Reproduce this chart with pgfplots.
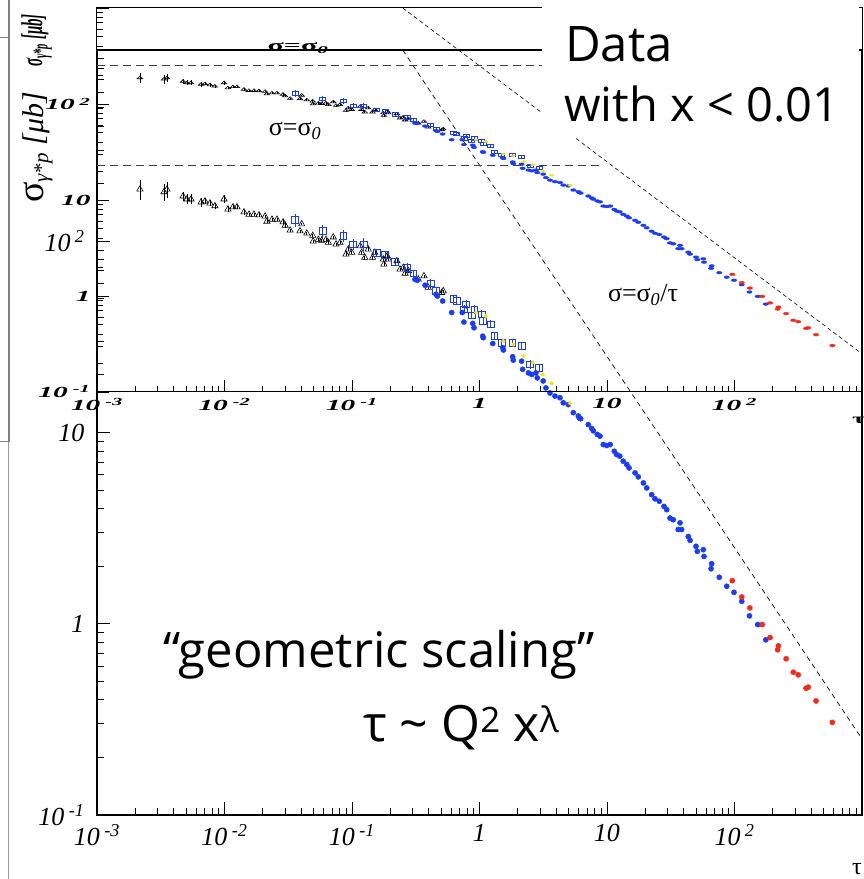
\documentclass[border=0pt]{standalone}
\usepackage{fontspec}
\setmainfont{Liberation Serif}
\newfontfamily\comic{Open Sans}
\usepackage{graphicx}
\usepackage{pgfplots}
\usepackage{pgfplotstable}
\pgfplotsset{compat=1.18}
\definecolor{hblue}{RGB}{25,60,250}
\definecolor{hred}{RGB}{250,40,20}
\definecolor{hyel}{RGB}{245,230,0}

\pgfplotstableread{
x y e
0.00217 187 22
0.00335 181 18
0.00354 187 18
0.00473 172 10
0.00508 166 10
0.00546 166 10
0.00655 160 9
0.00703 162 6
0.00769 158 6
0.00841 153 6
0.00991 166 8
0.01064 147 4
0.01167 151 4
0.01253 151 4
0.01422 142 4
0.01556 138 3
0.01702 138 3
0.01866 137 3
0.0208 135 3
0.0215 127 3
0.0236 130 3
0.0258 130 3
0.0288 126 3
0.0299 121 3
0.0327 114 2
0.0391 113 2
0.0403 123 2
0.0442 110 2
0.0492 107 2
0.0496 100 2
0.0545 102 2
0.0578 101 2
0.0625 102 2
0.0652 98.4 2
0.0713 105 2
0.0750 96.4 2
0.0805 98.4 2
0.0897 85.5 2
0.0935 90.8 2
0.0995 87.3 2
0.116 94.4 2
0.119 87.3 2
0.126 82.2 2
0.134 90.8 2
0.145 82.2 2
0.151 87.3 2
0.176 80.5 2
0.178 75.8 2
0.189 83.8 2
0.193 80.5 2
0.225 78.9 1.5
0.238 71.3 1.5
0.252 72.8 1.5
0.261 67.9 1.5
0.277 70.0 1.5
0.331 63.2 1.2
0.367 65.8 1.2
0.396 57.3 1.2
0.506 53.8 1
0.520 54.9 1
}\tri

\pgfplotstableread{
x y e
0.0357 129 10
0.0589 113 9
0.0855 107 8
0.102 96.4 6
0.123 96.4 7
0.156 87.3 4
0.182 84.5 4
0.217 77.9 4
0.272 72.8 4
0.303 67.9 3
0.414 60.3 3
0.456 54.9 3
0.624 50.1 2.5
0.662 48.7 2.5
0.783 46.8 2.3
0.755 44.0 2.2
0.869 41.0 2
0.910 44.0 2.2
1.04 41.5 2
1.07 38.3 2
1.22 36.8 1.8
1.31 31.9 1.6
1.49 29.5 1.5
1.81 29.5 1.5
2.14 28.3 1.4
2.49 22.7 1.1
2.94 21.8 1.1
}\sqr

\pgfplotstableread{
x y
0.312 63.2
0.325 62.5
0.374 58.9
0.456 52.8
0.467 51.7
0.514 48.7
0.605 42.4
0.733 42.4
0.755 37.8
0.885 37.2
0.906 35.3
1.06 31.9
1.07 31.3
1.27 29.2
1.52 27.8
1.54 27.0
1.82 24.9
1.84 23.9
2.14 23.6
2.18 21.4
2.42 20.5
2.57 20.1
2.77 20.5
2.84 19.3
3.16 18.6
3.32 17.1
3.57 16.1
3.91 15.5
4.28 15.2
4.54 14.3
4.97 14.0
5.44 12.7
5.96 12.2
6.07 11.9
6.22 11.8
7.13 11.0
7.59 10.5
7.81 10.2
8.39 9.77
8.81 9.57
9.35 8.65
9.95 8.55
10.6 8.65
11.4 7.98
11.9 7.67
12.6 7.52
13.4 7.08
14.3 6.80
14.9 6.53
16.6 6.15
17.6 5.86
19.3 5.45
20.5 5.13
22.4 4.73
23.8 4.50
25.7 4.37
28.0 4.11
29.4 3.95
31.2 3.57
33.1 3.50
37.4 3.37
36.2 3.11
38.5 3.11
43.4 2.86
44.8 2.73
49.9 2.54
51.1 2.39
56.9 2.44
57.7 2.25
66.2 2.06
65.5 1.94
76.0 1.75
86.9 1.57
99.1 1.46
114 1.31
131 1.10
152 0.99
176 0.824
}\bluedots

\pgfplotstableread{
x y
96.1 1.68
114 1.38
132 1.21
165 0.99
190 0.847
221 0.767
218 0.731
254 0.656
289 0.558
316 0.541
364 0.460
379 0.466
436 0.395
585 0.305
}\reddots

\pgfplotstableread{
x y
0.940 42.4
1.12 40.6
1.54 30.1
1.84 28.9
2.21 25.1
2.61 23.2
3.13 20.1
3.68 18.1
5.13 14.2
}\yeldots

\newcommand{\bl}[2]{\itshape #1\,\textsuperscript{#2}}
\newcommand{\il}[1]{\scalebox{1.05}[0.55]{\bfseries\itshape #1}}

\begin{document}
\begin{tikzpicture}
\useasboundingbox (0pt,0pt) rectangle (863pt,879pt);

% ---------------- big plot ----------------
\begin{axis}[
  at={(97pt,64pt)}, anchor=south west, scale only axis,
  width=765pt, height=765pt,
  xmode=log, ymode=log, xmin=1e-3, xmax=1e3, ymin=0.1, ymax=1000,
  axis line style={line width=1.3pt},
  tick align=inside, xtick pos=left, ytick pos=left,
  major tick length=13pt, minor tick length=7pt,
  every tick/.style={black, line width=0.9pt},
  xtick={1e-3,1e-2,1e-1,1,10,100,1000},
  xticklabels={\bl{10}{-3},\bl{10}{-2},\bl{10}{-1},{\itshape 1},{\itshape 10},\bl{10}{2},{}},
  ytick={0.1,1,10,100,1000},
  yticklabels={\bl{10}{-1},{\itshape 1},{\itshape 10},\bl{10}{2},{}},
  tick label style={font=\fontsize{26}{28}\selectfont},
  yticklabel style={xshift=-9pt},
  xticklabel style={yshift=-6pt},
]
\addplot[black, line width=0.7pt, dash pattern=on 5pt off 4pt] coordinates {(0.25,1000) (1000,0.25)};
\addplot[black!75, line width=0.8pt, dash pattern=on 8pt off 5pt] coordinates {(0.001,250) (9.4,250)};
\addplot[only marks, mark=triangle, mark size=3.6pt, black, line width=0.6pt,
  error bars/.cd, y dir=both, y explicit, error mark=none,
  error bar style={line width=0.6pt}] table[x=x,y=y,y error=e]{\tri};
\addplot[only marks, mark=square, mark size=3.4pt, hblue, line width=0.7pt,
  error bars/.cd, y dir=both, y explicit, error mark=none,
  error bar style={line width=0.7pt}] table[x=x,y=y,y error=e]{\sqr};
\addplot[only marks, mark=*, mark size=2.6pt, hblue] table[x=x,y=y]{\bluedots};
\addplot[only marks, mark=*, mark size=1.9pt, hyel] table[x=x,y=y]{\yeldots};
\addplot[only marks, mark=*, mark size=2.6pt, hred] table[x=x,y=y]{\reddots};
\end{axis}

% ---------------- inset (compressed copy) ----------------
\begin{axis}[
  at={(97pt,487pt)}, anchor=south west, scale only axis,
  width=765pt, height=384pt,
  xmode=log, ymode=log, xmin=1e-3, xmax=1e3, ymin=0.1, ymax=1000,
  axis line style={line width=1pt},
  tick align=inside, xtick pos=left, ytick pos=left,
  major tick length=12pt, minor tick length=6pt,
  every tick/.style={black, line width=0.8pt},
  xtick={1e-3,1e-2,1e-1,1,10,100,1000},
  xticklabels={\il{10\,\textsuperscript{-3}},\il{10\,\textsuperscript{-2}},\il{10\,\textsuperscript{-1}},\il{1},\il{10},\il{10\,\textsuperscript{2}},{}},
  ytick={0.1,1,10,100,1000},
  yticklabels={\il{10\,\textsuperscript{-1}},\il{1},\il{10},\il{10\,\textsuperscript{2}},{}},
  tick label style={font=\fontsize{28}{30}\selectfont},
  yticklabel style={xshift=-3pt},
  xticklabel style={yshift=-3pt},
]
\addplot[black, line width=0.6pt, dash pattern=on 4pt off 3pt] coordinates {(0.25,1000) (1000,0.25)};
\addplot[black!75, line width=0.8pt, dash pattern=on 8pt off 5pt] coordinates {(0.001,250) (9.4,250)};
\addplot[only marks, mark=triangle, mark size=3.2pt, black, line width=0.6pt, mark options={yscale=0.55},
  error bars/.cd, y dir=both, y explicit, error mark=none,
  error bar style={line width=0.6pt}] table[x=x,y=y,y error=e]{\tri};
\addplot[only marks, mark=square, mark size=3pt, hblue, line width=0.7pt, mark options={yscale=0.55},
  error bars/.cd, y dir=both, y explicit, error mark=none,
  error bar style={line width=0.7pt}] table[x=x,y=y,y error=e]{\sqr};
\addplot[only marks, mark=*, mark size=2.7pt, hblue, mark options={yscale=0.5}] table[x=x,y=y]{\bluedots};
\addplot[only marks, mark=*, mark size=2pt, hyel, mark options={yscale=0.5}] table[x=x,y=y]{\yeldots};
\addplot[only marks, mark=*, mark size=2.7pt, hred, mark options={yscale=0.5}] table[x=x,y=y]{\reddots};
\end{axis}

% white box behind the "Data" text
\fill[white] (542pt,741pt) rectangle (859pt,879pt);

% annotations
\node[font=\comic\fontsize{49}{58}\selectfont, anchor=base west, inner sep=0] at (565pt,817pt) {Data};
\node[font=\comic\fontsize{47}{58}\selectfont, anchor=base west, inner sep=0] at (564pt,757pt) {with x < 0.01};
\node[font=\comic\fontsize{49}{56}\selectfont, anchor=base west, inner sep=0] at (163pt,211pt) {“geometric scaling”};
\node[font=\comic\fontsize{50}{56}\selectfont, anchor=base west, inner sep=0] at (363pt,137pt) {τ \textasciitilde{} Q\textsuperscript{2} x\textsuperscript{λ}};

\node[font=\fontsize{26}{28}\selectfont] at (295pt,748pt) {σ=σ\textsubscript{\textit{0}}};
\node[font=\fontsize{26}{28}\selectfont] at (643pt,584pt) {σ=σ\textsubscript{\textit{0}}/τ};
\node[font=\fontsize{30}{32}\selectfont] at (298pt,831pt) {\scalebox{1}[0.5]{\bfseries σ=σ\textsubscript{\textit{0}}}};

\node[font=\fontsize{24}{26}\selectfont, anchor=base, inner sep=0] at (857pt,5pt) {τ};
\node[font=\fontsize{28}{30}\selectfont, anchor=base west, inner sep=0] at (852pt,455pt) {\scalebox{1}[0.5]{\bfseries τ}};

\node[rotate=90, anchor=base west, inner sep=0, font=\fontsize{30}{32}\selectfont] at (43pt,676pt)
  {{\fontsize{38}{40}\selectfont σ}\textsubscript{\textit{γ*p}} \textit{[μb]}};
\node[rotate=90, anchor=base west, inner sep=0, font=\fontsize{30}{32}\selectfont] at (42pt,812pt)
  {\scalebox{0.5}[1]{\bfseries\itshape σ\textsubscript{γ*p} [μb]}};

% screenshot frame remnants on the left
\draw[gray, line width=2pt] (9pt,879pt) -- (9pt,437pt);
\draw[gray, line width=1pt] (0pt,841pt) -- (9pt,841pt);
\draw[gray, line width=1pt] (0pt,437pt) -- (9pt,437pt);
\draw[gray!80, line width=1pt] (8pt,437pt) -- (8pt,0pt);
\end{tikzpicture}
\end{document}
